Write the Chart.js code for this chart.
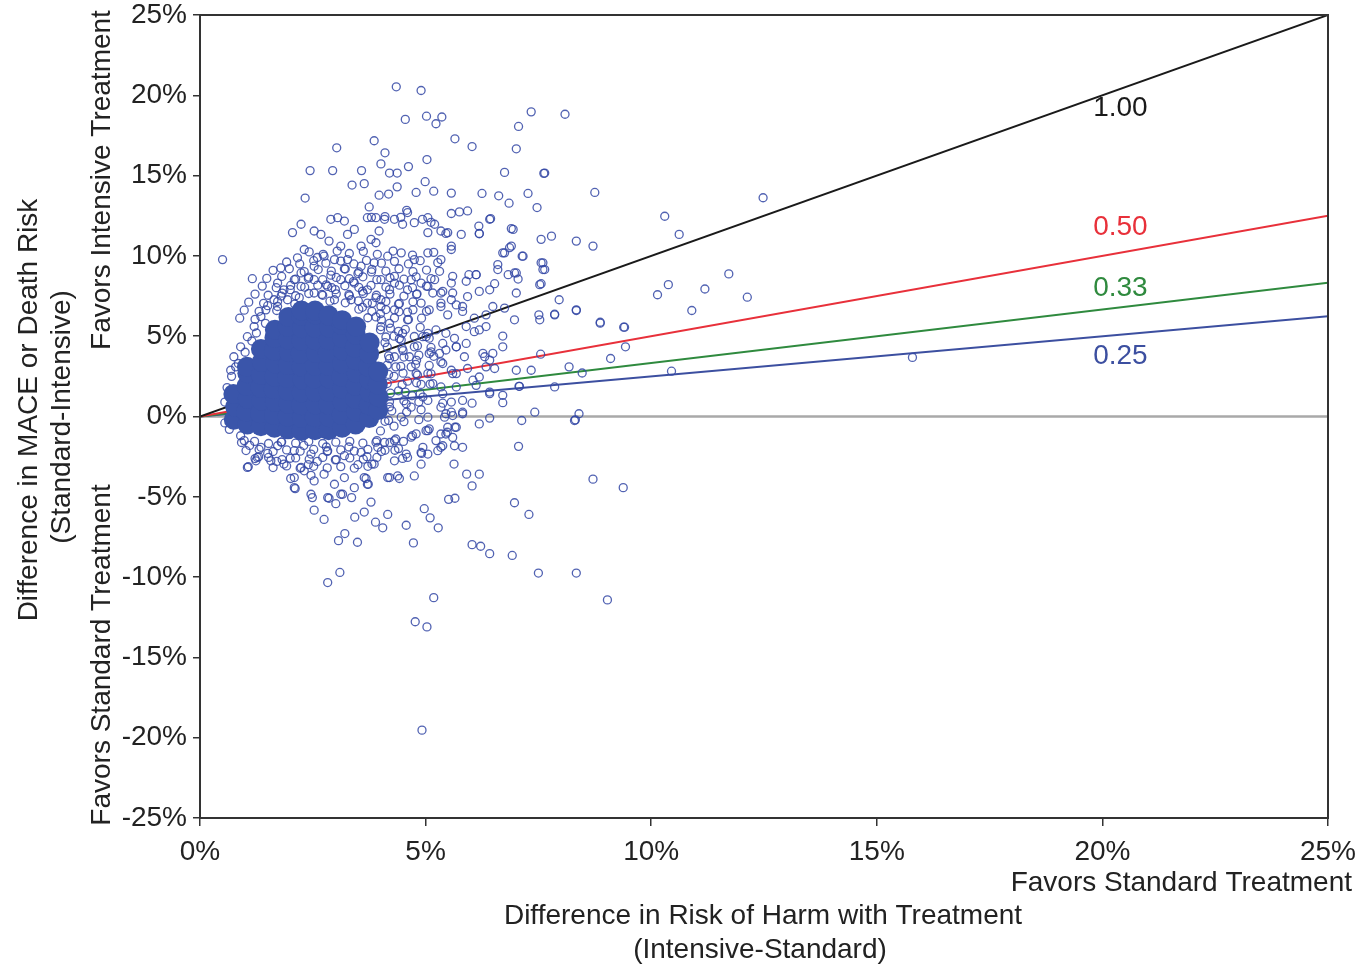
<!DOCTYPE html>
<html>
<head>
<meta charset="utf-8">
<script src="https://cdn.jsdelivr.net/npm/chart.js@4.4.1/dist/chart.umd.min.js"></script>
<style>
  html, body { margin: 0; padding: 0; background: #fff; }
  #wrap { width: 1359px; height: 969px; }
</style>
</head>
<body>
<div id="wrap"><canvas id="riskChart" width="1359" height="969"></canvas></div>
<script>
// x = difference in risk of harm (%), y = difference in MACE/death risk (%)
const xTickValues = [0, 5, 10, 15, 20, 25];
const yTickValues = [-25, -20, -15, -10, -5, 0, 5, 10, 15, 20, 25];

const slopeValues = [1.0, 0.5, 0.3333, 0.25];
const slopeLabels = ["1.00", "0.50", "0.33", "0.25"];
const slopeColors = ["#1a1a1a", "#e8303a", "#2f8a3e", "#3c4fa0"];

// solid mass of overlapping markers
const corePts = [
    [0.75, -0.2], [0.78, 0.6], [0.74, 1.4],
    [1.05, -0.5], [1.02, 0.3], [1.06, 1.1], [1.03, 1.9], [1.05, 2.7], [1.04, 3.1],
    [1.35, -0.6], [1.33, 0.2], [1.36, 1.0], [1.34, 1.8], [1.35, 2.6], [1.37, 3.4], [1.35, 4.2],
    [1.65, -0.7], [1.64, 0.1], [1.66, 0.9], [1.63, 1.7], [1.65, 2.5], [1.67, 3.3], [1.64, 4.1], [1.65, 4.9], [1.66, 5.4],
    [1.95, -0.8], [1.94, 0.0], [1.96, 0.8], [1.95, 1.6], [1.93, 2.4], [1.95, 3.2], [1.97, 4.0], [1.95, 4.8], [1.94, 5.6], [1.96, 6.2],
    [2.25, -0.9], [2.26, -0.1], [2.24, 0.7], [2.25, 1.5], [2.27, 2.3], [2.25, 3.1], [2.23, 3.9], [2.25, 4.7], [2.26, 5.5], [2.24, 6.3], [2.25, 6.6],
    [2.55, -0.85], [2.54, -0.05], [2.56, 0.75], [2.55, 1.55], [2.53, 2.35], [2.55, 3.15], [2.57, 3.95], [2.55, 4.75], [2.54, 5.55], [2.56, 6.35], [2.55, 6.6],
    [2.85, -0.85], [2.86, -0.05], [2.84, 0.75], [2.85, 1.55], [2.87, 2.35], [2.85, 3.15], [2.83, 3.95], [2.85, 4.75], [2.86, 5.55], [2.85, 6.3],
    [3.15, -0.7], [3.14, 0.1], [3.16, 0.9], [3.15, 1.7], [3.13, 2.5], [3.15, 3.3], [3.17, 4.1], [3.15, 4.9], [3.14, 5.7], [3.15, 6.0],
    [3.45, -0.5], [3.46, 0.3], [3.44, 1.1], [3.45, 1.9], [3.47, 2.7], [3.45, 3.5], [3.43, 4.3], [3.45, 5.1], [3.46, 5.6],
    [3.75, -0.1], [3.74, 0.7], [3.76, 1.5], [3.75, 2.3], [3.73, 3.1], [3.75, 3.9], [3.76, 4.6],
    [3.95, 0.4], [3.96, 1.2], [3.94, 2.0], [3.95, 2.8]
];

// individual open markers (halo and outliers)
const scatterPts = [
    [4.35, 20.53], [4.90, 20.3], [4.55, 18.5], [5.02, 18.7], [5.23, 18.23], [5.36, 18.65], [7.34, 18.97],
    [8.09, 18.82], [7.06, 18.06], [5.65, 17.29], [6.03, 16.81], [7.01, 16.67], [3.86, 17.17], [3.03, 16.73],
    [4.10, 16.42], [5.03, 16.0], [4.62, 15.56], [4.01, 15.73], [2.44, 15.31], [2.94, 15.31], [3.58, 15.31],
    [6.75, 15.2], [7.64, 15.16], [4.2, 15.16], [4.37, 15.16], [3.37, 14.41], [3.64, 14.5], [4.37, 14.3],
    [4.99, 14.62], [8.75, 13.95], [7.27, 13.89], [6.62, 13.74], [6.25, 13.89], [5.57, 13.91], [5.18, 14.03],
    [4.79, 13.95], [3.97, 13.78], [4.18, 13.85], [6.85, 13.28], [7.47, 13.01], [2.33, 13.6], [3.75, 13.05],
    [4.58, 12.84], [5.57, 12.64], [5.75, 12.74], [5.93, 12.8], [6.44, 12.32], [6.18, 11.86], [6.9, 11.7],
    [3.8, 12.4], [4.1, 12.45], [4.45, 12.4], [4.93, 12.28], [5.12, 12.09], [5.45, 11.4], [5.79, 11.34],
    [6.19, 11.4], [7.56, 11.03], [7.79, 11.23], [8.34, 10.92], [8.71, 10.61], [6.75, 10.19], [6.86, 10.51],
    [7.14, 9.98], [7.56, 9.57], [7.64, 9.15], [7.56, 8.27], [6.97, 8.94], [7.05, 8.56], [6.53, 8.27],
    [5.96, 8.83], [6.12, 8.83], [7.96, 7.27], [8.34, 6.64], [7.51, 6.33], [7.86, 6.33], [6.97, 6.02],
    [8.87, 5.87], [9.39, 5.56], [9.43, 4.34], [9.1, 3.61], [8.18, 3.09], [8.47, 2.71], [7.55, 3.88],
    [7.01, 2.88], [7.34, 2.88], [6.71, 5.01], [6.71, 4.34], [6.49, 3.93], [6.31, 3.72], [6.71, 0.86],
    [7.07, 1.88], [7.86, 1.84], [7.42, 0.27], [8.4, 0.17], [0.5, 9.77], [1.16, 8.58], [0.79, 3.09],
    [12.48, 13.62], [10.3, 12.47], [10.62, 11.34], [11.72, 8.88], [10.38, 8.21], [10.14, 7.58], [11.19, 7.94],
    [12.13, 7.43], [10.9, 6.6], [8.34, 6.6], [8.87, 5.81], [9.41, 5.56], [10.45, 2.82], [15.79, 3.68],
    [8.3, -0.25],
    [8.71, -3.9], [9.38, -4.43], [6.97, -5.37], [7.29, -6.1], [7.06, -1.86], [6.19, -0.46], [6.42, -0.1],
    [7.13, -0.25], [8.32, -0.21], [5.82, -1.92], [5.63, -2.96], [5.91, -3.59], [6.19, -3.59], [6.03, -4.32],
    [5.51, -5.16], [5.65, -5.09], [4.97, -5.74], [5.1, -6.31], [5.28, -6.93], [4.16, -6.1], [4.57, -6.77],
    [3.89, -6.58], [4.05, -6.93], [4.73, -7.87], [6.03, -7.98], [6.22, -8.08], [6.42, -8.54], [6.92, -8.65],
    [7.5, -9.75], [8.34, -9.75], [9.03, -11.42], [5.18, -11.28], [4.77, -12.78], [5.03, -13.1], [4.92, -19.53],
    [3.1, -9.71], [2.83, -10.34], [3.07, -7.73], [3.21, -7.29], [3.49, -7.83], [3.43, -6.27], [3.64, -5.95],
    [3.79, -5.33], [2.75, -6.41], [2.53, -5.83], [2.49, -5.05], [2.86, -5.09], [3.01, -5.43], [3.16, -4.84],
    [3.36, -5.05], [2.11, -4.49], [2.01, -3.86], [1.07, -3.13], [1.24, -2.76], [3.81, -2.96], [4.2, -3.8],
    [4.42, -3.86], [4.75, -3.7], [4.49, -2.61], [4.91, -2.3], [5.27, -2.13], [5.38, -1.82], [5.48, -0.98],
    [5.65, -0.67], [5.01, -0.88], [4.79, -1.08], [4.09, -1.61], [4.34, -1.4], [5.82, 0.27], [5.6, 0.06],
    [6.03, 0.83], [5.38, 0.83], [5.57, 0.9], [3.68, -3.86], [3.73, -4.22], [2.24, -3.17], [2.46, -3.66],
    [6.42, 12.28], [6.19, 11.38], [6.94, 11.65], [6.9, 10.61], [7.16, 9.98], [6.71, 10.19], [7.6, 9.57],
    [7.6, 9.15], [6.6, 9.46], [5.57, 10.61], [7.62, 15.14],
    [7.86, 6.37], [7.53, 6.02], [6.6, 9.15], [6.83, 8.83], [7.01, 8.94], [7.53, 8.21], [7.01, 7.69],
    [6.42, 7.89], [6.19, 7.79], [6.34, 5.6], [6.19, 5.39], [6.08, 6.12], [5.93, 7.47], [5.82, 6.85],
    [5.68, 6.95], [5.9, 4.55], [5.68, 4.34], [5.86, 3.72], [6.27, 3.93], [6.42, 3.51], [6.34, 3.09],
    [6.53, 2.99], [5.93, 2.99], [6.19, 2.46], [6.12, 1.94], [5.68, 1.84], [6.42, 1.52], [6.71, 1.32],
    [7.08, 1.88], [5.57, 0.27], [5.42, -0.04], [5.68, -0.67], [5.6, -1.3], [5.45, -1.09], [5.23, -1.5],
    [5.64, -1.82], [5.08, -0.77], [4.71, -1.19], [4.94, -1.92], [4.57, -2.34], [4.9, -2.24], [5.34, 3.4],
    [5.6, 2.67], [5.16, 2.05], [5.57, 2.88], [5.31, 3.93], [5.12, 4.03], [5.45, 4.14], [5.23, 5.39],
    [5.01, 4.97], [5.45, 5.18], [5.64, 4.87], [5.9, 5.6], [6.08, 5.28], [5.08, 6.64], [5.34, 7.06],
    [5.49, 6.33], [5.82, 6.54], [5.6, 7.69], [5.38, 7.79], [5.16, 7.69], [5.9, 8.42], [6.12, 8.83],
    [5.6, 8.73], [5.31, 9.04], [6.49, 6.85], [6.75, 6.75], [6.34, 6.33],
    [2.05, 11.45], [2.24, 11.97], [2.53, 11.55], [2.68, 11.34], [2.9, 12.28], [3.05, 12.38], [3.2, 12.17],
    [2.86, 10.92], [3.12, 10.61], [3.27, 11.34], [3.42, 11.65], [3.57, 10.61], [3.79, 11.03], [3.9, 10.82],
    [3.97, 11.55], [3.71, 12.38], [3.9, 12.38], [4.09, 12.28], [4.31, 12.28], [4.49, 11.97], [4.6, 12.7],
    [4.75, 12.07], [5.05, 12.38], [5.2, 11.97], [5.34, 11.55], [5.05, 11.45], [2.31, 10.4], [2.16, 9.88],
    [1.79, 9.25], [1.72, 8.31], [2.09, 8.52], [1.86, 7.89], [2.24, 8.94], [2.53, 9.36], [2.75, 9.98],
    [2.98, 9.77], [1.64, 7.27], [1.46, 6.64], [1.72, 6.85], [1.94, 7.27], [1.35, 6.22], [1.2, 5.6],
    [1.05, 4.97], [0.9, 4.34], [0.75, 3.72], [0.68, 2.88], [3.27, 9.77], [3.57, 9.36], [3.86, 9.57],
    [4.16, 9.98], [4.46, 10.19], [4.75, 9.77], [5.05, 10.19], [5.34, 9.77], [5.57, 10.4], [5.49, 11.45],
    [4.31, 8.31], [4.68, 8.52], [5.05, 8.1], [5.34, 7.69], [5.57, 8.31], [4.9, 7.06], [5.34, 6.85],
    [5.57, 7.27],
    [1.05, -3.17], [1.27, -2.55], [1.57, -2.76], [1.86, -2.96], [2.09, -3.8], [2.31, -3.38], [2.53, -4.01],
    [2.75, -3.59], [2.98, -4.22], [3.2, -3.8], [3.42, -4.43], [3.64, -3.8], [3.86, -2.96], [4.16, -3.8],
    [4.38, -3.7], [3.71, -4.22], [2.46, -4.84], [2.83, -5.05], [3.12, -4.84], [2.09, -4.43],
    [0.98, -1.5], [1.35, -1.92], [1.72, -1.82], [2.09, -2.13], [2.46, -2.34], [2.83, -2.13], [3.2, -2.44],
    [3.57, -2.24], [3.94, -1.92], [4.31, -1.5], [4.68, -1.29], [5.05, -0.88], [5.34, -1.09], [5.34, -1.92],
    [5.05, -2.34], [4.6, -2.55], [4.31, -2.76], [4.9, -2.97],
    [4.01, 7.27], [4.31, 6.64], [4.6, 6.02], [4.01, 5.6], [4.46, 4.76], [4.75, 4.34], [5.05, 5.18],
    [4.31, 3.72], [4.68, 3.09], [5.05, 2.67], [5.34, 1.84], [5.05, 1.0], [4.68, 0.58], [4.46, -0.04],
    [5.05, -0.04], [5.34, 0.58], [5.49, -0.67],
    [2.24, 8.1], [2.53, 7.69], [2.83, 8.1], [3.12, 8.52], [3.42, 8.31], [3.71, 7.89], [4.01, 8.52],
    [4.31, 8.73], [4.6, 7.89], [4.9, 8.31], [5.2, 8.52], [2.53, 8.52], [2.98, 7.27], [3.35, 7.27],
    [3.71, 7.06], [4.01, 6.85],
    [4.49, 5.18], [4.94, 4.97], [5.38, 4.55], [5.68, 4.34], [5.08, 3.93], [4.64, 3.72], [4.34, 3.09],
    [4.79, 2.67], [5.38, 3.3], [5.68, 2.67], [6.05, 2.26], [6.42, 1.42], [5.82, 1.0], [5.38, 1.42],
    [4.94, 1.21], [4.57, 0.79], [5.82, 0.17], [5.45, 0.17],
    [1.5, 6.9], [1.8, 7.5], [2.0, 7.9], [2.2, 7.4], [2.4, 8.6], [2.7, 7.6], [2.9, 8.8], [3.0, 7.9],
    [3.3, 7.6], [3.5, 8.9], [3.6, 6.8], [3.9, 7.4], [4.2, 7.9], [4.4, 7.0], [4.6, 6.5], [4.8, 7.6],
    [3.2, 9.2], [2.6, 9.9], [3.8, 9.0], [4.0, 6.4], [4.2, 5.8], [4.4, 5.3], [3.9, 6.2], [3.6, 7.8],
    [2.1, 7.0], [1.7, 6.6], [2.8, 8.2], [3.4, 8.4],
    [1.1, -1.8], [1.5, -2.3], [1.8, -1.6], [2.0, -2.6], [2.3, -1.8], [2.6, -2.8], [2.8, -1.9], [3.0, -2.7],
    [3.3, -1.9], [3.5, -3.0], [3.7, -2.5], [3.9, -1.6], [4.1, -2.1], [4.4, -2.0], [4.0, -0.9], [4.3, -0.6],
    [2.4, -3.0], [1.7, -2.8], [1.3, -2.5],
    [4.1, 4.6], [4.2, 3.6], [4.3, 2.5], [4.4, 1.6], [4.2, 0.6], [4.5, 4.1], [4.6, 2.2], [4.7, 1.3],
    [4.8, 3.5], [4.9, 2.0], [4.1, -0.3], [4.3, 5.0], [4.0, 5.4],
    [0.55, 0.9], [0.6, 1.8], [0.55, -0.4], [0.7, 2.5], [0.65, -0.8], [0.9, -1.2], [0.85, 3.3], [1.0, 4.0],
    [1.15, 4.7], [1.25, 5.2], [1.45, 5.8]
];

// crowded band of open markers hugging the solid mass
const bandPts = [
    [2.42, 10.25], [2.73, 10.1], [3.04, 10.3], [3.31, 10.15], [3.62, 10.28], [3.93, 10.1], [4.28, 10.3], [4.71, 10.05], [5.18, 10.22],
    [1.92, 9.62], [2.21, 9.5], [2.52, 9.7], [2.79, 9.55], [3.12, 9.68], [3.41, 9.5], [3.69, 9.72], [4.02, 9.55], [4.31, 9.66], [4.62, 9.5], [4.88, 9.7], [5.27, 9.58],
    [1.62, 9.1], [1.98, 9.2], [2.31, 9.02], [2.62, 9.15], [2.91, 9.05], [3.22, 9.18], [3.52, 9.0], [3.81, 9.16], [4.12, 9.05], [4.41, 9.2], [4.72, 9.02], [5.02, 9.12],
    [1.48, 8.6], [1.81, 8.72], [2.12, 8.55], [2.41, 8.68], [2.72, 8.52], [3.02, 8.66], [3.31, 8.58], [3.61, 8.7], [3.92, 8.52], [4.21, 8.64], [4.52, 8.55], [4.79, 8.7], [5.12, 8.58],
    [1.38, 8.12], [1.69, 8.02], [2.01, 8.16], [2.32, 8.05], [2.61, 8.18], [2.92, 8.02], [3.21, 8.14], [3.52, 8.04], [3.79, 8.16], [4.12, 8.06], [4.42, 8.18], [4.71, 8.02], [5.02, 8.12],
    [1.22, 7.62], [1.51, 7.55], [1.82, 7.68], [2.12, 7.52], [2.41, 7.66], [2.72, 7.55], [3.02, 7.64], [3.31, 7.52], [3.62, 7.66], [3.91, 7.55], [4.21, 7.62], [4.52, 7.5], [4.81, 7.64],
    [1.08, 7.12], [1.41, 7.05], [1.72, 7.16], [2.88, 7.18], [3.22, 7.08], [3.51, 7.2], [3.82, 7.06], [4.12, 7.16], [4.42, 7.04], [4.72, 7.14],
    [0.98, 6.62], [1.31, 6.55], [3.52, 6.68], [3.81, 6.55], [4.12, 6.66], [4.41, 6.52], [4.72, 6.64], [5.02, 6.55],
    [0.88, 6.12], [1.22, 6.05], [3.72, 6.15], [4.02, 6.02], [4.31, 6.14], [4.62, 6.04], [4.91, 6.12],
    [4.22, 5.5], [4.55, 5.42], [4.88, 5.55], [4.12, 4.95], [4.42, 4.85], [4.75, 4.98], [5.08, 4.88],
    [4.15, 4.32], [4.48, 4.25], [4.82, 4.4], [5.12, 4.3], [4.18, 3.78], [4.52, 3.7], [4.85, 3.82], [5.18, 3.75],
    [4.15, 3.2], [4.45, 3.12], [4.78, 3.25], [5.08, 3.18], [4.18, 2.62], [4.5, 2.7], [4.82, 2.58], [5.12, 2.66],
    [4.15, 2.05], [4.48, 1.98], [4.8, 2.1], [5.1, 2.02], [4.22, 1.45], [4.55, 1.52], [4.88, 1.42],
    [4.2, 0.92], [4.52, 0.98], [4.85, 0.9], [4.25, 0.35], [4.58, 0.28], [4.9, 0.42], [4.18, -0.25], [4.52, -0.32], [4.85, -0.2],
    [0.92, -1.62], [1.21, -1.55], [1.52, -1.68], [1.81, -1.58], [2.12, -1.66], [2.41, -1.55], [2.72, -1.68], [3.01, -1.6], [3.32, -1.55], [3.61, -1.66], [3.92, -1.5], [4.21, -1.62], [4.51, -1.55],
    [1.02, -2.12], [1.31, -2.05], [1.62, -2.18], [1.92, -2.08], [2.22, -2.16], [2.52, -2.05], [2.82, -2.18], [3.12, -2.08], [3.42, -2.15], [3.72, -2.05], [4.02, -2.18], [4.32, -2.1],
    [1.22, -2.62], [1.52, -2.55], [1.82, -2.68], [2.12, -2.58], [2.42, -2.66], [2.72, -2.55], [3.02, -2.68], [3.32, -2.58], [3.62, -2.66], [3.92, -2.55],
    [1.62, -3.18], [1.92, -3.08], [2.22, -3.22], [2.52, -3.1], [2.82, -3.2], [3.12, -3.12], [3.42, -3.22], [3.72, -3.1]
];

const FONT = "'Liberation Sans', Arial, sans-serif";
const markerColor = "rgba(50, 70, 165, 0.85)";

var lineSets = slopeValues.map(function (s, i) {
    return {
        type: "line",
        data: [{ x: 0, y: 0 }, { x: 25, y: 25 * s }],
        borderColor: slopeColors[i],
        borderWidth: 2,
        pointRadius: 0,
        order: 3,
    };
});

function toXY(p) { return { x: p[0], y: p[1] }; }

// keep tick labels from widening the plot margins
function noEdgePadding(axis) {
    axis.paddingLeft = 0;
    axis.paddingRight = 0;
    axis.paddingTop = 0;
    axis.paddingBottom = 0;
}

var ctx = document.getElementById("riskChart").getContext("2d");

var riskChart = new Chart(ctx, {
    type: "scatter",
    data: {
        datasets: [
            {
                type: "line",
                data: [{ x: 0, y: 0 }, { x: 25, y: 0 }],
                borderColor: "#a9a9a9",
                borderWidth: 2.5,
                pointRadius: 0,
                order: 4,
            },
        ].concat(lineSets, [
            {
                data: scatterPts.concat(bandPts).map(toXY),
                pointStyle: "circle",
                pointRadius: 4,
                borderWidth: 1.3,
                borderColor: markerColor,
                backgroundColor: "rgba(0,0,0,0)",
                order: 2,
            },
            {
                data: corePts.map(toXY),
                pointStyle: "circle",
                pointRadius: 10,
                borderWidth: 0,
                backgroundColor: "#3a55aa",
                order: 1,
            },
        ]),
    },
    options: {
        responsive: false,
        animation: false,
        events: [],
        layout: { padding: { left: 0, top: 15, right: 31, bottom: 0 } },
        plugins: { legend: { display: false }, tooltip: { enabled: false } },
        scales: {
            x: {
                type: "linear",
                min: 0,
                max: 25,
                afterBuildTicks: function (axis) {
                    axis.ticks = xTickValues.map(function (v) { return { value: v }; });
                },
                afterFit: function (axis) {
                    axis.height = 151;
                    noEdgePadding(axis);
                },
                ticks: {
                    callback: function (v) { return v + "%"; },
                    font: { family: FONT, size: 28, lineHeight: 1.0 },
                    color: "#222",
                    padding: 12,
                    maxRotation: 0,
                },
                grid: { drawOnChartArea: false, tickLength: 8, color: "#333", lineWidth: 1.5 },
                border: { color: "#333", width: 2 },
            },
            y: {
                type: "linear",
                min: -25,
                max: 25,
                afterBuildTicks: function (axis) {
                    axis.ticks = yTickValues.map(function (v) { return { value: v }; });
                },
                afterFit: function (axis) {
                    axis.width = 200;
                    noEdgePadding(axis);
                },
                ticks: {
                    callback: function (v) { return v + "%"; },
                    font: { family: FONT, size: 28, lineHeight: 1.0 },
                    color: "#222",
                    padding: 6,
                },
                grid: { drawOnChartArea: false, tickLength: 7, color: "#333", lineWidth: 1.5 },
                border: { color: "#333", width: 2 },
            },
        },
    },
    plugins: [
        {
            id: "frameAndText",
            afterDraw: function (chart) {
                const c = chart.ctx;
                const a = chart.chartArea;
                const xs = chart.scales.x;
                const ys = chart.scales.y;
                c.save();
                c.strokeStyle = "#333";
                c.lineWidth = 2;
                c.strokeRect(a.left, a.top, a.right - a.left, a.bottom - a.top);

                // slope labels
                c.font = "28px " + FONT;
                c.textAlign = "center";
                c.textBaseline = "middle";
                const labelY = [19.2, 11.8, 8.0, 3.76];
                slopeLabels.forEach(function (t, i) {
                    c.fillStyle = slopeColors[i];
                    c.fillText(t, xs.getPixelForValue(20.4), ys.getPixelForValue(labelY[i]));
                });

                // axis titles
                c.fillStyle = "#222";
                c.textAlign = "right";
                c.fillText("Favors Standard Treatment", 1352, 883);
                c.textAlign = "center";
                c.fillText("Difference in Risk of Harm with Treatment", 763, 916);
                c.fillText("(Intensive-Standard)", 760, 950);

                function vText(t, x, y) {
                    c.save();
                    c.translate(x, y);
                    c.rotate(-Math.PI / 2);
                    c.fillText(t, 0, 0);
                    c.restore();
                }
                vText("Difference in MACE or Death Risk", 29, 410);
                vText("(Standard-Intensive)", 62, 417);
                vText("Favors Intensive Treatment", 102, 180);
                vText("Favors Standard Treatment", 102, 655);
                c.restore();
            },
        },
    ],
});
</script>
</body>
</html>
